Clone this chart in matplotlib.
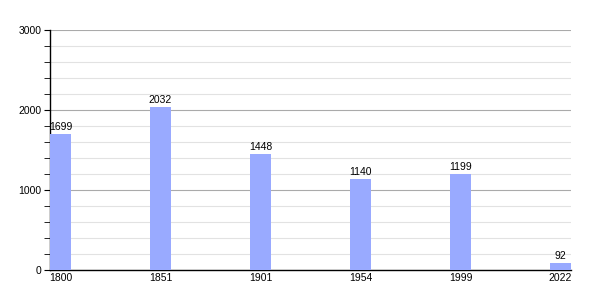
import numpy as np
import matplotlib.pyplot as plt
from matplotlib.ticker import MultipleLocator

plt.rcParams['font.family'] = ['Liberation Sans', 'DejaVu Sans']

# Data
years = ['1800', '1851', '1901', '1954', '1999', '2022']
population = [1699, 2032, 1448, 1140, 1199, 92]

bar_color = '#99aaff'
bar_w = 0.21

fig = plt.figure(figsize=(6, 3), dpi=100)
ax = fig.add_axes([50 / 600, 30 / 300, 521 / 600, 240 / 300])

x = np.arange(len(years))
ax.bar(x, population, width=bar_w, align='edge', color=bar_color, zorder=3)

for xi, v in zip(x, population):
    ax.text(xi + bar_w / 2, v + 25, str(v), ha='center', va='bottom',
            fontsize=7.5, zorder=4)

ax.set_xlim(0, len(years) - 1 + bar_w)
ax.set_ylim(0, 3000)
ax.set_xticks(x + bar_w / 2)
ax.set_xticklabels(years)
ax.tick_params(axis='x', length=0, labelsize=7.5, pad=2)

ax.yaxis.set_major_locator(MultipleLocator(1000))
ax.yaxis.set_minor_locator(MultipleLocator(200))
ax.tick_params(axis='y', which='major', length=4, labelsize=7.5, pad=2)
ax.tick_params(axis='y', which='minor', length=4)

ax.grid(True, which='major', axis='y', color='#aaaaaa', linewidth=0.8, zorder=1)
ax.grid(True, which='minor', axis='y', color='#e2e2e2', linewidth=0.8, zorder=0)

for side in ['top', 'right']:
    ax.spines[side].set_visible(False)
ax.spines['left'].set_linewidth(1)
ax.spines['bottom'].set_linewidth(1)

plt.savefig('out.png', dpi=100)
